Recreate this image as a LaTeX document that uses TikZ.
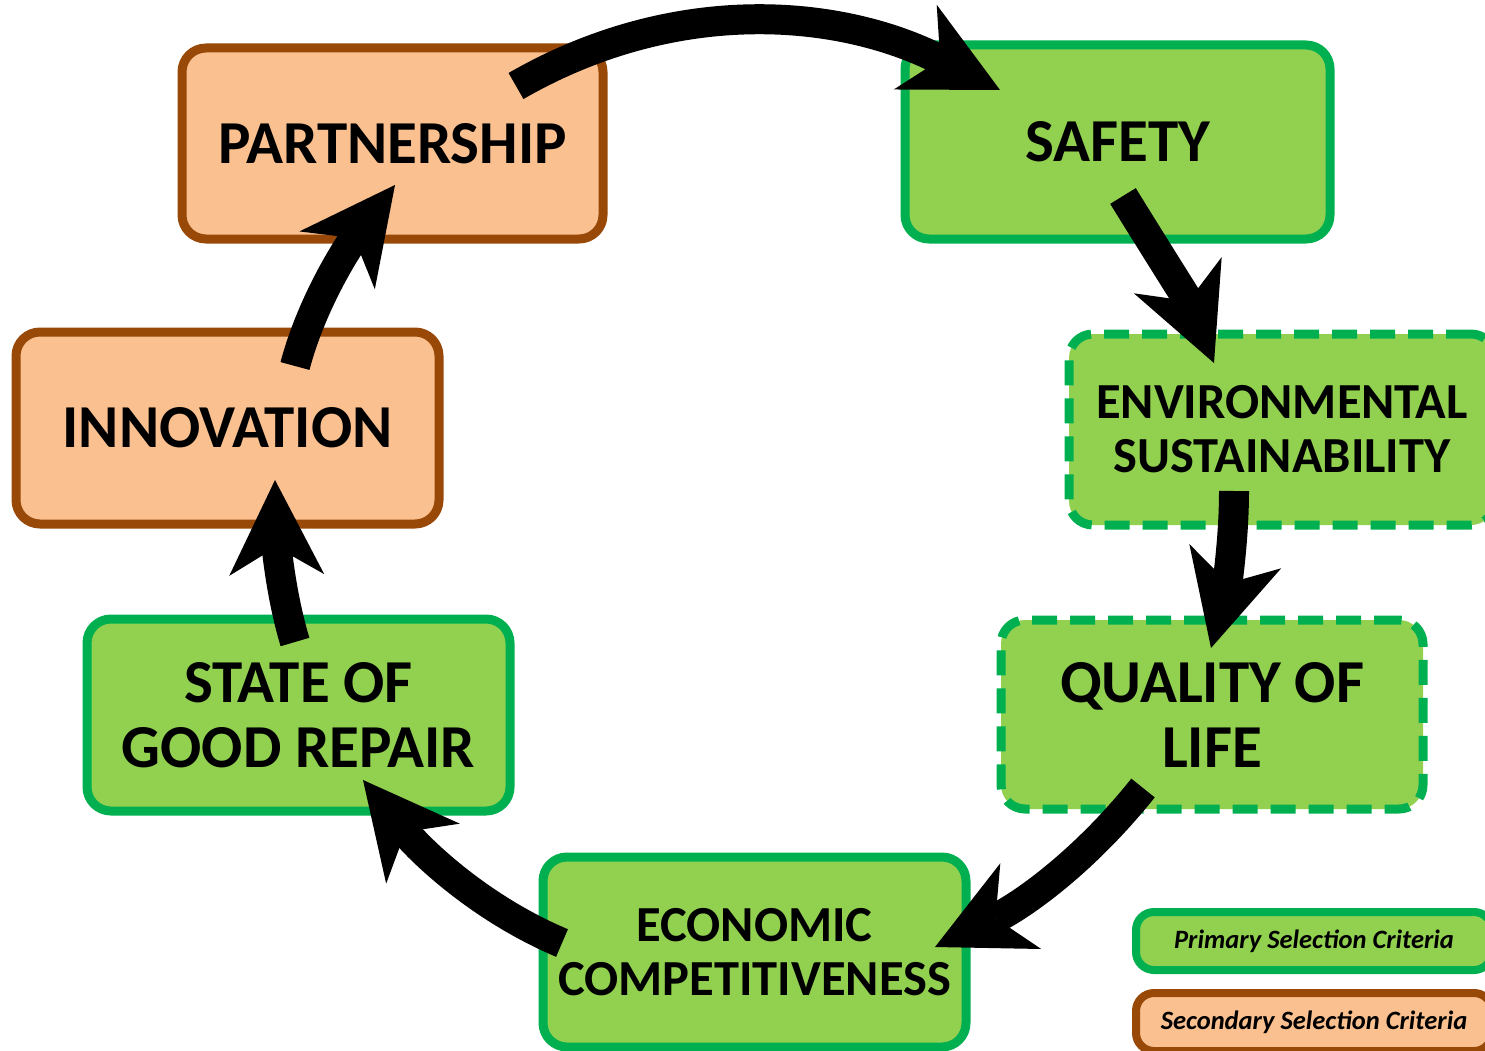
\documentclass[tikz,border=0pt]{standalone}
\usepackage{fontspec}
\setmainfont{Carlito}
\usetikzlibrary{arrows.meta}
\definecolor{gfill}{HTML}{92D050}
\definecolor{gline}{HTML}{00B050}
\definecolor{ofill}{HTML}{FAC090}
\definecolor{oline}{HTML}{984807}
\begin{document}
\begin{tikzpicture}[x=1pt,y=-1pt,
  crit/.style={rectangle, rounded corners=24pt, line width=9pt, align=center, inner sep=0pt,
    font=\bfseries\fontsize{61}{65}\selectfont},
  primary/.style={crit, draw=gline, fill=gfill},
  secondary/.style={crit, draw=oline, fill=ofill},
  dashedbox/.style={dash pattern=on 25pt off 13pt},
  midtext/.style={font=\bfseries\fontsize{50.5}{54}\selectfont},
  legendbox/.style={minimum width=356pt, minimum height=58pt, rounded corners=18pt, line width=8pt,
    font=\bfseries\itshape\fontsize{26.5}{28}\selectfont},
  flow/.style={line width=30pt, -{Stealth[length=95pt,width=95pt,inset=28pt,line width=0pt]}},
]
\useasboundingbox (0,0) rectangle (1485,1051);

% boxes
\node[secondary, minimum width=421pt, minimum height=191pt] (part) at (392.5,143.5) {PARTNERSHIP};
\node[primary, minimum width=425pt, minimum height=194pt] (safe) at (1117.5,142) {SAFETY};
\node[primary, dashedbox, midtext, minimum width=426pt, minimum height=191pt] (env) at (1282,429.5) {ENVIRONMENTAL\\SUSTAINABILITY};
\node[primary, dashedbox, minimum width=422pt, minimum height=189pt] (qol) at (1212,714.5) {QUALITY OF\\LIFE};
\node[primary, midtext, minimum width=423pt, minimum height=190pt] (econ) at (754.5,952) {ECONOMIC\\COMPETITIVENESS};
\node[primary, minimum width=423pt, minimum height=192pt] (sogr) at (298.5,715) {STATE OF\\GOOD REPAIR};
\node[secondary, minimum width=423pt, minimum height=192pt] (innov) at (227.5,428) {INNOVATION};

% legend
\node[primary, legendbox] (leg1) at (1314,941) {Primary Selection Criteria};
\node[secondary, legendbox] (leg2) at (1314,1022) {Secondary Selection Criteria};

% arrow end points
\coordinate (a1s) at (516,86);   \coordinate (a1e) at (1000,90);
\coordinate (a2s) at (1123,196); \coordinate (a2e) at (1214,363);
\coordinate (a3s) at (1234,491); \coordinate (a3e) at (1211,648);
\coordinate (a4s) at (1143,788); \coordinate (a4e) at (935,947);
\coordinate (a5s) at (562,943);  \coordinate (a5e) at (363,780);
\coordinate (a6s) at (295,642);  \coordinate (a6e) at (275,480);
\coordinate (a7s) at (295,366);  \coordinate (a7e) at (395,185);

% arrows
\draw[flow] (a1s) .. controls (674,-5) and (838,8) .. (a1e);
\draw[flow] (a2s) .. controls (1150,240) and (1188,300) .. (a2e);
\draw[flow] (a3s) .. controls (1234,546) and (1225,595) .. (a3e);
\draw[flow] (a4s) .. controls (1084,862) and (1021,906) .. (a4e);
\draw[flow] (a5s) .. controls (479,908) and (420,850) .. (a5e);
\draw[flow] (a6s) .. controls (279,589) and (276,535) .. (a6e);
\draw[flow] (a7s) .. controls (313,298) and (352,241) .. (a7e);
\end{tikzpicture}
\end{document}
